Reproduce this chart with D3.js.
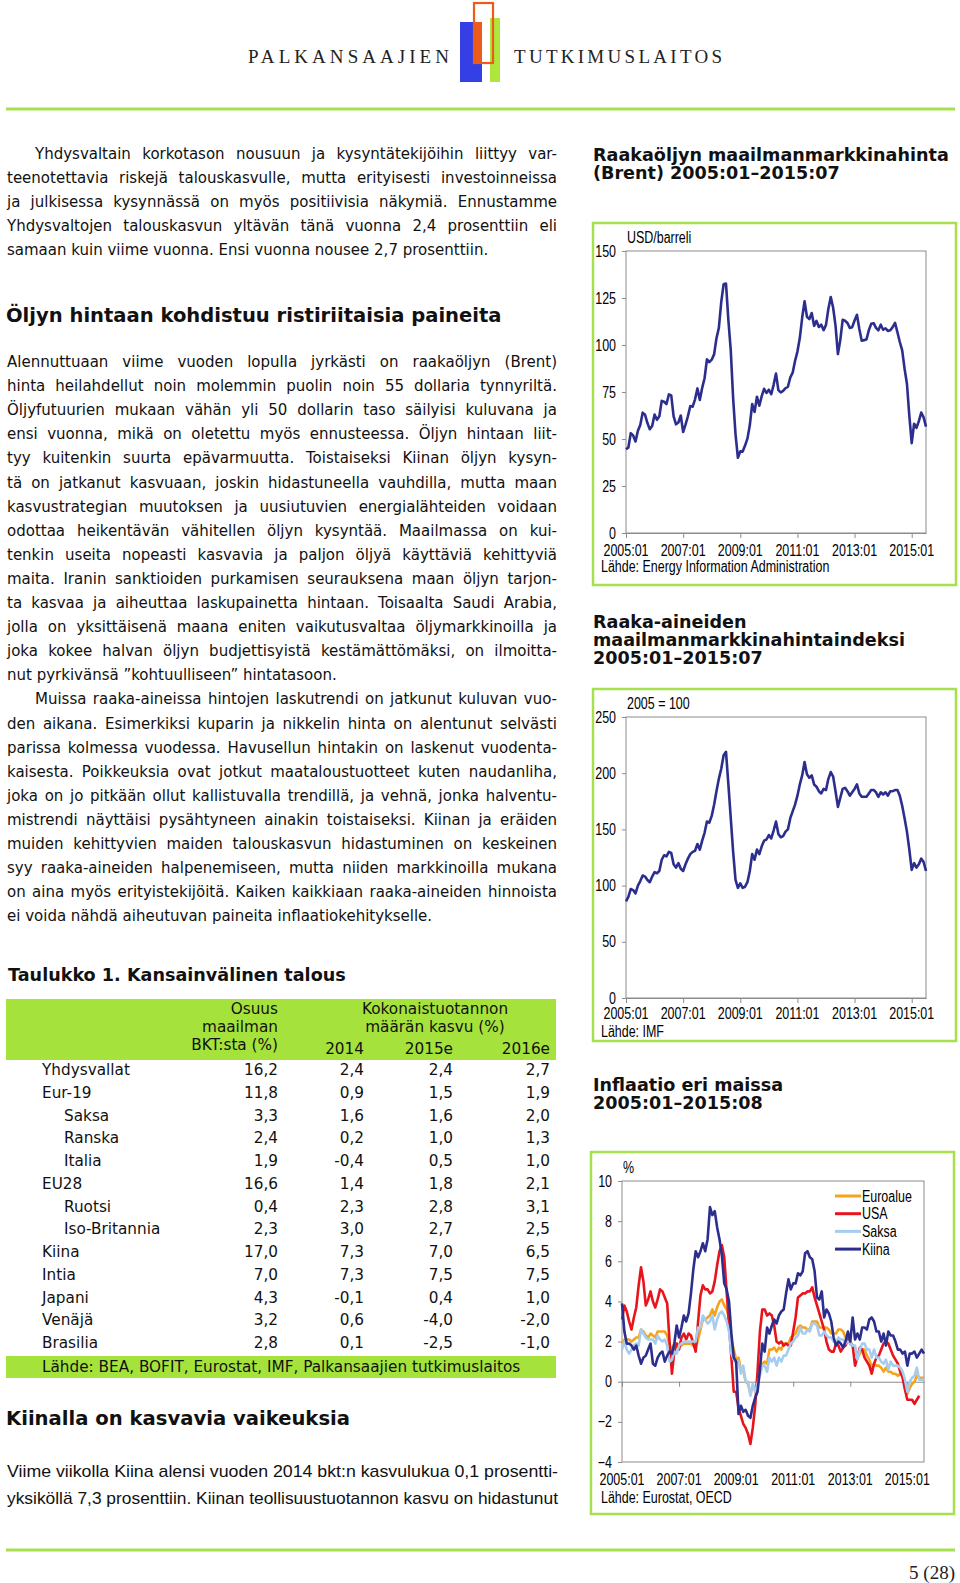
<!DOCTYPE html>
<html lang="fi">
<head>
<meta charset="utf-8">
<title>Palkansaajien tutkimuslaitos 5 (28)</title>
<script src="https://cdn.jsdelivr.net/npm/d3@7"></script>
<style>
  body { margin: 0; background: #fff; }
  svg { display: block; }
</style>
</head>
<body>
<script>
// ---------- data ----------
var monthTicks = [0, 24, 48, 72, 96, 120];
var monthLabels = ["2005:01", "2007:01", "2009:01", "2011:01", "2013:01", "2015:01"];

// Brent, USD/barreli, 2005:01-2015:07
var brentUsd = [
  44.5, 45.5, 53.1, 51.9, 48.7, 54.4, 57.5, 64.0, 62.9, 58.5, 55.2, 56.9,
  63.0, 60.2, 62.1, 70.3, 69.8, 68.6, 73.7, 73.2, 62.0, 57.8, 58.8, 62.5,
  53.7, 57.6, 62.1, 67.5, 67.2, 71.1, 76.9, 70.8, 77.2, 82.3, 92.4, 90.9,
  92.2, 95.0, 103.6, 109.1, 122.8, 132.3, 132.7, 113.2, 97.2, 71.6, 52.5, 40.0,
  43.4, 43.3, 46.5, 50.2, 57.3, 68.6, 64.4, 72.5, 67.7, 72.8, 76.7, 74.5,
  76.2, 73.8, 78.8, 84.8, 76.0, 74.8, 75.6, 77.0, 77.8, 82.7, 85.3, 91.5,
  96.5, 103.7, 114.6, 123.3, 115.0, 113.8, 117.0, 110.2, 112.8, 109.6, 110.8, 107.9,
  110.7, 119.3, 125.5, 119.8, 110.3, 95.2, 102.6, 113.4, 112.9, 111.7, 109.1, 109.5,
  113.0, 116.1, 108.5, 102.3, 102.6, 102.9, 107.9, 111.3, 111.6, 109.1, 107.8, 110.8,
  108.1, 108.9, 107.5, 107.8, 109.5, 111.8, 106.8, 101.6, 97.1, 87.4, 79.4, 62.3,
  47.8, 58.1, 55.9, 59.5, 64.1, 61.5, 56.6
];

// Raaka-aineiden hintaindeksi, 2005 = 100, 2005:01-2015:07
var commodityIndex = [
  86, 90, 97, 96, 93, 100, 104, 109, 108, 105, 103, 108,
  112, 111, 113, 123, 127, 126, 130, 129, 119, 116, 120, 115,
  113, 119, 124, 128, 130, 131, 137, 132, 140, 147, 157, 156,
  162, 172, 184, 195, 204, 216, 219, 190, 160, 130, 105, 98,
  102, 98, 99, 103, 113, 128, 123, 132, 128, 135, 140, 141,
  145, 142, 149, 157, 146, 143, 144, 148, 150, 160, 166, 172,
  180, 190, 198, 210, 199, 196, 198, 190, 188, 184, 182, 186,
  185, 195, 201, 197, 184, 170, 178, 186, 187, 184, 180, 183,
  186, 190, 182, 179, 179, 179, 182, 185, 185, 183, 179, 183,
  181, 183, 180, 184, 184, 185, 185, 180, 171, 160, 148, 132,
  114, 120, 116, 119, 124, 121, 113
];

// Inflaatio, %, 2005:01-2015:08
var inflEuroalue = [
  1.9, 2.1, 2.1, 2.1, 2.0, 2.1, 2.2, 2.2, 2.6, 2.5, 2.3, 2.2,
  2.4, 2.3, 2.2, 2.5, 2.5, 2.5, 2.5, 2.3, 1.8, 1.6, 1.9, 1.9,
  1.8, 1.8, 1.9, 1.9, 1.9, 1.9, 1.8, 1.7, 2.1, 2.6, 3.1, 3.1,
  3.2, 3.3, 3.6, 3.3, 3.7, 4.0, 4.1, 3.8, 3.6, 3.2, 2.1, 1.6,
  1.1, 1.2, 0.6, 0.6, 0.0, -0.1, -0.6, -0.2, -0.3, -0.1, 0.5, 0.9,
  1.0, 0.9, 1.6, 1.6, 1.7, 1.5, 1.7, 1.6, 1.9, 1.9, 1.9, 2.2,
  2.3, 2.4, 2.7, 2.8, 2.7, 2.7, 2.6, 2.6, 3.0, 3.0, 3.0, 2.7,
  2.7, 2.7, 2.7, 2.6, 2.4, 2.4, 2.4, 2.6, 2.6, 2.5, 2.2, 2.2,
  2.0, 1.8, 1.7, 1.2, 1.4, 1.6, 1.6, 1.3, 1.1, 0.7, 0.9, 0.8,
  0.8, 0.7, 0.5, 0.7, 0.5, 0.5, 0.4, 0.4, 0.3, 0.4, 0.3, -0.2,
  -0.6, -0.3, -0.1, 0.0, 0.3, 0.2, 0.2, 0.2
];
var inflUsa = [
  3.1, 3.8, 3.5, 3.0, 2.6, 3.2, 3.7, 4.8, 5.7, 5.0, 3.8, 4.1,
  4.5, 4.0, 3.7, 4.1, 4.6, 4.5, 4.2, 3.9, 2.0, 0.4, 1.5, 1.9,
  1.6, 2.2, 2.4, 2.1, 2.4, 2.3, 1.9, 1.5, 3.0, 4.3, 4.8, 4.6,
  4.6, 4.4, 4.5, 5.0, 5.8, 6.5, 6.8, 6.2, 4.5, 2.8, 1.2, -0.5,
  -0.5, -1.3, -1.7, -2.1, -2.3, -2.6, -3.1, -2.3, -1.2, 0.5, 2.5, 3.6,
  3.6, 3.3, 3.4, 3.3, 2.8, 2.0, 1.9, 2.0, 1.8, 1.9, 1.8, 1.8,
  2.5, 3.2, 4.2, 4.3, 4.4, 4.4, 4.5, 4.5, 4.7, 4.2, 3.8, 3.4,
  3.0, 2.6, 2.0, 1.6, 1.5, 1.5, 1.9, 1.8, 1.5, 1.7, 1.8, 2.1,
  1.9, 1.8, 0.8, 1.2, 1.7, 1.6, 1.2, 1.0, 0.8, 0.4, 0.9, 1.2,
  1.3, 1.6, 1.9, 2.0, 1.9, 1.6, 1.3, 1.1, 0.9, 0.5, 0.2, -0.4,
  -0.9, -0.9, -0.9, -1.1, -0.9, -0.7
];
var inflSaksa = [
  1.6, 2.0, 1.6, 1.4, 1.6, 1.8, 1.9, 1.8, 2.6, 2.4, 2.2, 2.1,
  2.1, 2.1, 1.9, 2.3, 2.1, 2.0, 2.1, 1.8, 1.0, 1.1, 1.5, 1.4,
  1.8, 1.9, 2.0, 2.0, 2.0, 2.0, 2.0, 2.0, 2.7, 2.7, 3.3, 3.1,
  2.9, 3.0, 3.3, 2.6, 3.1, 3.4, 3.5, 3.3, 3.0, 2.5, 1.4, 1.1,
  0.9, 1.0, 0.4, 0.8, 0.0, 0.0, -0.7, -0.1, -0.5, -0.1, 0.3, 0.8,
  0.8, 0.5, 1.2, 1.0, 1.2, 0.8, 1.2, 1.0, 1.3, 1.3, 1.6, 1.9,
  2.0, 2.2, 2.3, 2.7, 2.4, 2.4, 2.6, 2.5, 2.9, 2.9, 2.8, 2.3,
  2.3, 2.5, 2.3, 2.2, 2.2, 2.0, 1.9, 2.2, 2.1, 2.1, 1.9, 2.0,
  1.9, 1.8, 1.8, 1.1, 1.6, 1.9, 1.9, 1.6, 1.6, 1.2, 1.6, 1.2,
  1.2, 1.0, 0.9, 1.1, 0.6, 1.0, 0.8, 0.8, 0.8, 0.7, 0.5, 0.1,
  -0.5, 0.0, 0.2, 0.3, 0.7, 0.1, 0.1, 0.1
];
var inflKiina = [
  3.9, 2.5, 1.9, 1.9, 1.8, 1.6, 1.8, 1.3, 0.9, 1.2, 1.3, 1.6,
  1.9, 0.9, 0.8, 1.2, 1.4, 1.5, 1.0, 1.3, 1.5, 1.4, 1.9, 2.8,
  2.2, 2.7, 3.3, 3.0, 3.4, 4.4, 5.6, 6.5, 6.2, 6.5, 6.9, 6.5,
  7.1, 8.7, 8.3, 8.5, 7.7, 7.1, 6.3, 4.9, 4.6, 4.0, 2.4, 1.2,
  1.0, -1.6, -1.2, -1.5, -1.4, -1.7, -1.8, -1.2, -0.8, -0.5, 0.6, 1.9,
  1.5, 2.7, 2.4, 2.8, 3.1, 2.9, 3.3, 3.5, 3.6, 4.4, 5.1, 4.6,
  4.9, 4.9, 5.4, 5.3, 5.5, 6.4, 6.5, 6.2, 6.1, 5.5, 4.2, 4.1,
  4.5, 3.2, 3.6, 3.4, 3.0, 2.2, 1.8, 2.0, 1.9, 1.7, 2.0, 2.5,
  2.0, 3.2, 2.1, 2.4, 2.1, 2.7, 2.7, 2.6, 3.1, 3.2, 3.0, 2.5,
  2.5, 2.0, 2.4, 1.8, 2.5, 2.3, 2.3, 2.0, 1.6, 1.6, 1.4, 1.5,
  0.8, 1.4, 1.4, 1.5, 1.2, 1.4, 1.6, 1.4
];
var inflNames = ["Euroalue", "USA", "Saksa", "Kiina"];

var oilTicks = [0, 25, 50, 75, 100, 125, 150];
var indexTicks = [0, 50, 100, 150, 200, 250];
var inflTicks = [-4, -2, 0, 2, 4, 6, 8, 10];

// Taulukko 1
var tableCountries = ["Yhdysvallat", "Eur-19", "Saksa", "Ranska", "Italia", "EU28", "Ruotsi",
  "Iso-Britannia", "Kiina", "Intia", "Japani", "Venäjä", "Brasilia"];
var tableSubRow = [0, 0, 1, 1, 1, 0, 1, 1, 0, 0, 0, 0, 0];
var shareWorldGdp = [16.2, 11.8, 3.3, 2.4, 1.9, 16.6, 0.4, 2.3, 17.0, 7.0, 4.3, 3.2, 2.8];
var growth2014 = [2.4, 0.9, 1.6, 0.2, -0.4, 1.4, 2.3, 3.0, 7.3, 7.3, -0.1, 0.6, 0.1];
var growth2015e = [2.4, 1.5, 1.6, 1.0, 0.5, 1.8, 2.8, 2.7, 7.0, 7.5, 0.4, -4.0, -2.5];
var growth2016e = [2.7, 1.9, 2.0, 1.3, 1.0, 2.1, 3.1, 2.5, 6.5, 7.5, 1.0, -2.0, -1.0];

// body text, line by line as in the layout
var para1 = [
  "Yhdysvaltain korkotason nousuun ja kysyntätekijöihin liittyy var-",
  "teenotettavia riskejä talouskasvulle, mutta erityisesti investoinneissa",
  "ja julkisessa kysynnässä on myös positiivisia näkymiä. Ennustamme",
  "Yhdysvaltojen talouskasvun yltävän tänä vuonna 2,4 prosenttiin eli",
  "samaan kuin viime vuonna. Ensi vuonna nousee 2,7 prosenttiin."
];
var para2 = [
  "Alennuttuaan viime vuoden lopulla jyrkästi on raakaöljyn (Brent)",
  "hinta heilahdellut noin molemmin puolin noin 55 dollaria tynnyriltä.",
  "Öljyfutuurien mukaan vähän yli 50 dollarin taso säilyisi kuluvana ja",
  "ensi vuonna, mikä on oletettu myös ennusteessa. Öljyn hintaan liit-",
  "tyy kuitenkin suurta epävarmuutta. Toistaiseksi Kiinan öljyn kysyn-",
  "tä on jatkanut kasvuaan, joskin hidastuneella vauhdilla, mutta maan",
  "kasvustrategian muutoksen ja uusiutuvien energialähteiden voidaan",
  "odottaa heikentävän vähitellen öljyn kysyntää. Maailmassa on kui-",
  "tenkin useita nopeasti kasvavia ja paljon öljyä käyttäviä kehittyviä",
  "maita. Iranin sanktioiden purkamisen seurauksena maan öljyn tarjon-",
  "ta kasvaa ja aiheuttaa laskupainetta hintaan. Toisaalta Saudi Arabia,",
  "jolla on yksittäisenä maana eniten vaikutusvaltaa öljymarkkinoilla ja",
  "joka kokee halvan öljyn budjettisyistä kestämättömäksi, on ilmoitta-",
  "nut pyrkivänsä ”kohtuulliseen” hintatasoon."
];
var para3 = [
  "Muissa raaka-aineissa hintojen laskutrendi on jatkunut kuluvan vuo-",
  "den aikana. Esimerkiksi kuparin ja nikkelin hinta on alentunut selvästi",
  "parissa kolmessa vuodessa. Havusellun hintakin on laskenut vuodenta-",
  "kaisesta. Poikkeuksia ovat jotkut maataloustuotteet kuten naudanliha,",
  "joka on jo pitkään ollut kallistuvalla trendillä, ja vehnä, jonka halventu-",
  "mistrendi näyttäisi pysähtyneen ainakin toistaiseksi. Kiinan ja eräiden",
  "muiden kehittyvien maiden talouskasvun hidastuminen on keskeinen",
  "syy raaka-aineiden halpenemiseen, mutta niiden markkinoilla mukana",
  "on aina myös erityistekijöitä. Kaiken kaikkiaan raaka-aineiden hinnoista",
  "ei voida nähdä aiheutuvan paineita inflaatiokehitykselle."
];
var para4 = [
  "Viime viikolla Kiina alensi vuoden 2014 bkt:n kasvulukua 0,1 prosentti-",
  "yksiköllä 7,3 prosenttiin. Kiinan teollisuustuotannon kasvu on hidastunut"
];

// ---------- page ----------
var SANS = "'DejaVu Sans', Verdana, sans-serif";
var NARROW = "'Liberation Sans Narrow', 'Arial Narrow', 'Liberation Sans', Arial, sans-serif";
var SERIF = "'Liberation Serif', 'Times New Roman', serif";
var GREEN = "#a6e04e";
var NAVY = "#2c2e8e";
var LABEL_SIZE = 16;

var svg = d3.select("body").append("svg")
    .attr("width", 960)
    .attr("height", 1583);

function txt(x, y, s, o) {
  o = o || {};
  return svg.append("text")
    .attr("x", x).attr("y", y)
    .attr("font-family", o.family || SANS)
    .attr("font-size", o.size || 13)
    .attr("font-weight", o.weight || null)
    .attr("text-anchor", o.anchor || null)
    .attr("class", o.cls || null)
    .attr("fill", o.fill || "#111")
    .text(s);
}

// font size that makes s exactly `width` wide
function fitSize(s, family, weight, width) {
  var t = txt(0, -50, s, {family: family, weight: weight, size: 20});
  var w = t.node().getComputedTextLength();
  t.remove();
  return 20 * width / w;
}

function justify(t, width) {
  var w = t.node().getComputedTextLength();
  var n = (t.text().match(/ /g) || []).length;
  if (w > width) t.attr("textLength", width).attr("lengthAdjust", "spacingAndGlyphs");
  else if (n) t.attr("word-spacing", ((width - w) / n).toFixed(2));
}

// narrow font check: if no condensed face is installed, squeeze
var probe = txt(0, -50, "2005:01", {family: NARROW, size: LABEL_SIZE});
var narrowScale = Math.min(1, 45 / probe.node().getComputedTextLength());
probe.remove();

// ---------- header ----------
svg.append("rect").attr("x", 460).attr("y", 22).attr("width", 22).attr("height", 60).attr("fill", "#3440e6");
svg.append("rect").attr("x", 490).attr("y", 18).attr("width", 10).attr("height", 64).attr("fill", "#aee63c");
svg.append("rect").attr("x", 474).attr("y", 22).attr("width", 8).attr("height", 41).attr("fill", "#ec5a1c");
svg.append("rect").attr("x", 474).attr("y", 3).attr("width", 19).attr("height", 60)
  .attr("fill", "none").attr("stroke", "#ec5a1c").attr("stroke-width", 2.2);
txt(248, 63, "PALKANSAAJIEN", {family: SERIF, size: 19, fill: "#222"})
  .attr("textLength", 201).attr("lengthAdjust", "spacing");
txt(514, 63, "TUTKIMUSLAITOS", {family: SERIF, size: 19, fill: "#222"})
  .attr("textLength", 208).attr("lengthAdjust", "spacing");
svg.append("line").attr("x1", 6).attr("x2", 955).attr("y1", 109).attr("y2", 109)
  .attr("stroke", GREEN).attr("stroke-width", 3);

// ---------- left column text ----------
var COL_X = 7, COL_W = 550, INDENT = 28, LH = 24.1;

var bodyLines = [];
function addPara(lines, y0, indent) {
  lines.forEach(function(s, i) {
    bodyLines.push({s: s, x: COL_X + (i === 0 && indent ? INDENT : 0),
      w: COL_W - (i === 0 && indent ? INDENT : 0), y: y0 + i * LH, just: i < lines.length - 1});
  });
}
addPara(para1, 159, true);
addPara(para2, 367, false);
addPara(para3, 367 + 14 * LH, true);

// size so that a typical justified line needs only a little extra space
var ratios = [];
bodyLines.forEach(function(l) {
  if (!l.just) return;
  var t = txt(0, -50, l.s, {size: 14});
  ratios.push(l.w / t.node().getComputedTextLength());
  t.remove();
});
var bodySize = Math.max(13.5, Math.min(15, 14 * d3.quantile(ratios.sort(d3.ascending), 0.4)));
bodyLines.forEach(function(l) {
  var t = txt(l.x, l.y, l.s, {size: bodySize});
  if (l.just) justify(t, l.w);
});

var headSize = fitSize("Öljyn hintaan kohdistuu ristiriitaisia paineita", SANS, "bold", 496);
txt(6, 322, "Öljyn hintaan kohdistuu ristiriitaisia paineita", {size: headSize, weight: "bold"});
txt(6, 1425, "Kiinalla on kasvavia vaikeuksia", {size: headSize, weight: "bold"})
  .attr("textLength", 344).attr("lengthAdjust", "spacingAndGlyphs");

para4.forEach(function(s, i) {
  var t = txt(7, 1477 + i * 27, s, {family: NARROW, size: 17});
  t.attr("textLength", 551).attr("lengthAdjust", "spacing");
  if (narrowScale < 0.97) t.attr("lengthAdjust", "spacingAndGlyphs");
});

// ---------- table ----------
var fmt = d3.formatLocale({decimal: ",", thousands: " ", grouping: [3], currency: ["", ""], minus: "-"}).format(".1f");
var tSize = fitSize("Yhdysvallat", SANS, null, 88);
var tabTitle = fitSize("Taulukko 1. Kansainvälinen talous", SANS, "bold", 338);
txt(8, 981, "Taulukko 1. Kansainvälinen talous", {size: tabTitle, weight: "bold"});

svg.append("rect").attr("x", 6).attr("y", 999).attr("width", 550).attr("height", 61).attr("fill", "#a5e33c");
svg.append("rect").attr("x", 6).attr("y", 1356).attr("width", 550).attr("height", 22).attr("fill", "#a5e33c");

var cols = [278, 364, 453, 550];
txt(278, 1014, "Osuus", {size: tSize, anchor: "end"});
txt(278, 1032, "maailman", {size: tSize, anchor: "end"});
txt(278, 1050, "BKT:sta (%)", {size: tSize, anchor: "end"});
txt(435, 1014, "Kokonaistuotannon", {size: tSize, anchor: "middle"});
txt(435, 1032, "määrän kasvu (%)", {size: tSize, anchor: "middle"});
["2014", "2015e", "2016e"].forEach(function(s, i) {
  txt(cols[i + 1], 1054, s, {size: tSize, anchor: "end"});
});

var rowY = d3.scaleLinear().domain([0, 1]).range([1075, 1075 + 22.75]);
tableCountries.forEach(function(c, i) {
  var y = rowY(i);
  txt(tableSubRow[i] ? 64 : 42, y, c, {size: tSize});
  [shareWorldGdp, growth2014, growth2015e, growth2016e].forEach(function(arr, j) {
    txt(cols[j], y, fmt(arr[i]), {size: tSize, anchor: "end"});
  });
});
txt(42, 1372, "Lähde: BEA, BOFIT, Eurostat, IMF, Palkansaajien tutkimuslaitos", {size: tSize});

// ---------- charts ----------
function titleLines(lines, y0, size) {
  lines.forEach(function(s, i) {
    txt(593, y0 + i * 17.8, s, {size: size, weight: "bold"});
  });
}
var titleSize = fitSize("Raakaöljyn maailmanmarkkinahinta", SANS, "bold", 356);

function drawChart(c) {
  svg.append("rect").attr("x", c.box[0]).attr("y", c.box[1]).attr("width", c.box[2]).attr("height", c.box[3])
    .attr("fill", "none").attr("stroke", GREEN).attr("stroke-width", 2.5);

  var g = svg.append("g");
  var x = d3.scaleLinear().domain([0, c.lastMonth]).range([c.left, c.right]);
  var y = d3.scaleLinear().domain(c.yDomain).range([c.bottom, c.top]);

  g.append("rect").attr("x", c.left).attr("y", c.top)
    .attr("width", c.right - c.left).attr("height", c.bottom - c.top)
    .attr("fill", "none").attr("stroke", "#8c8c8c").attr("stroke-width", 1);

  var ya = g.append("g").attr("transform", "translate(" + c.left + ",0)")
    .call(d3.axisLeft(y).tickValues(c.yTicks).tickSize(4).tickSizeOuter(0).tickPadding(6));
  ya.select(".domain").remove();
  ya.selectAll("line").attr("stroke", "#8c8c8c");
  ya.selectAll("text").attr("font-family", NARROW).attr("font-size", LABEL_SIZE).attr("fill", "#000").attr("class", "nw");

  var baseY = c.zeroAxis ? y(0) : c.bottom;
  var xa = g.append("g").attr("transform", "translate(0," + baseY + ")")
    .call(d3.axisBottom(x).tickValues(monthTicks).tickFormat("").tickSize(5).tickSizeOuter(0));
  xa.selectAll("line").attr("stroke", "#8c8c8c");
  xa.select(".domain").attr("stroke", "#8c8c8c");

  g.selectAll("text.xl").data(monthTicks).join("text")
    .attr("class", "xl nw")
    .attr("x", function(d) { return x(d); })
    .attr("y", c.labelY)
    .attr("text-anchor", "middle")
    .attr("font-family", NARROW).attr("font-size", LABEL_SIZE).attr("fill", "#000")
    .text(function(d, i) { return monthLabels[i]; });

  var line = d3.line().x(function(d, i) { return x(i); }).y(function(d) { return y(d); });
  c.series.forEach(function(s) {
    g.append("path").datum(s.values).attr("d", line)
      .attr("fill", "none").attr("stroke", s.color).attr("stroke-width", 2.6)
      .attr("stroke-linejoin", "round");
  });

  txt(c.left + 1, c.top - 8, c.unit, {family: NARROW, size: LABEL_SIZE, fill: "#000", cls: "nw"});
  txt(601, c.sourceY, c.source, {family: NARROW, size: LABEL_SIZE, fill: "#000", cls: "nw"});
  return {x: x, y: y};
}

titleLines(["Raakaöljyn maailmanmarkkinahinta", "(Brent) 2005:01–2015:07"], 161, titleSize);
drawChart({
  box: [593, 223, 363, 362], left: 626, right: 926, top: 251, bottom: 533,
  lastMonth: 126, yDomain: [0, 150], yTicks: oilTicks, labelY: 556,
  unit: "USD/barreli", source: "Lähde: Energy Information Administration", sourceY: 572,
  series: [{values: brentUsd, color: NAVY}]
});

titleLines(["Raaka-aineiden", "maailmanmarkkinahintaindeksi", "2005:01–2015:07"], 628, titleSize);
drawChart({
  box: [593, 689, 363, 352], left: 626, right: 926, top: 717, bottom: 998,
  lastMonth: 126, yDomain: [0, 250], yTicks: indexTicks, labelY: 1019,
  unit: "2005 = 100", source: "Lähde: IMF", sourceY: 1037,
  series: [{values: commodityIndex, color: NAVY}]
});

var inflColors = {"Euroalue": "#f5a31a", "USA": "#e8141c", "Saksa": "#a6cdef", "Kiina": NAVY};
titleLines(["Inflaatio eri maissa", "2005:01–2015:08"], 1091, titleSize);
drawChart({
  box: [591, 1152, 363, 362], left: 622, right: 924, top: 1181, bottom: 1462,
  lastMonth: 127, yDomain: [-4, 10], yTicks: inflTicks, labelY: 1485, zeroAxis: true,
  unit: "%", source: "Lähde: Eurostat, OECD", sourceY: 1503,
  series: [inflEuroalue, inflUsa, inflSaksa, inflKiina].map(function(v, i) {
    return {values: v, color: inflColors[inflNames[i]]};
  })
});

// legend
var leg = svg.append("g").selectAll("g").data(inflNames).join("g")
  .attr("transform", function(d, i) { return "translate(835," + (1196 + i * 17.7) + ")"; });
leg.append("line").attr("x1", 0).attr("x2", 26).attr("stroke", function(d) { return inflColors[d]; })
  .attr("stroke-width", 3);
leg.append("text").attr("x", 27).attr("dy", "0.35em").attr("class", "nw")
  .attr("font-family", NARROW).attr("font-size", LABEL_SIZE).attr("fill", "#000")
  .text(function(d) { return d; });

// ---------- footer ----------
svg.append("line").attr("x1", 6).attr("x2", 955).attr("y1", 1550).attr("y2", 1550)
  .attr("stroke", GREEN).attr("stroke-width", 3);
txt(955, 1579, "5 (28)", {family: SERIF, size: 19, anchor: "end", fill: "#222"});

// squeeze chart labels if the narrow face is missing
if (narrowScale < 0.97) {
  svg.selectAll("text.nw").each(function() {
    var w = this.getComputedTextLength();
    d3.select(this).attr("textLength", w * narrowScale).attr("lengthAdjust", "spacingAndGlyphs");
  });
}
</script>
</body>
</html>
